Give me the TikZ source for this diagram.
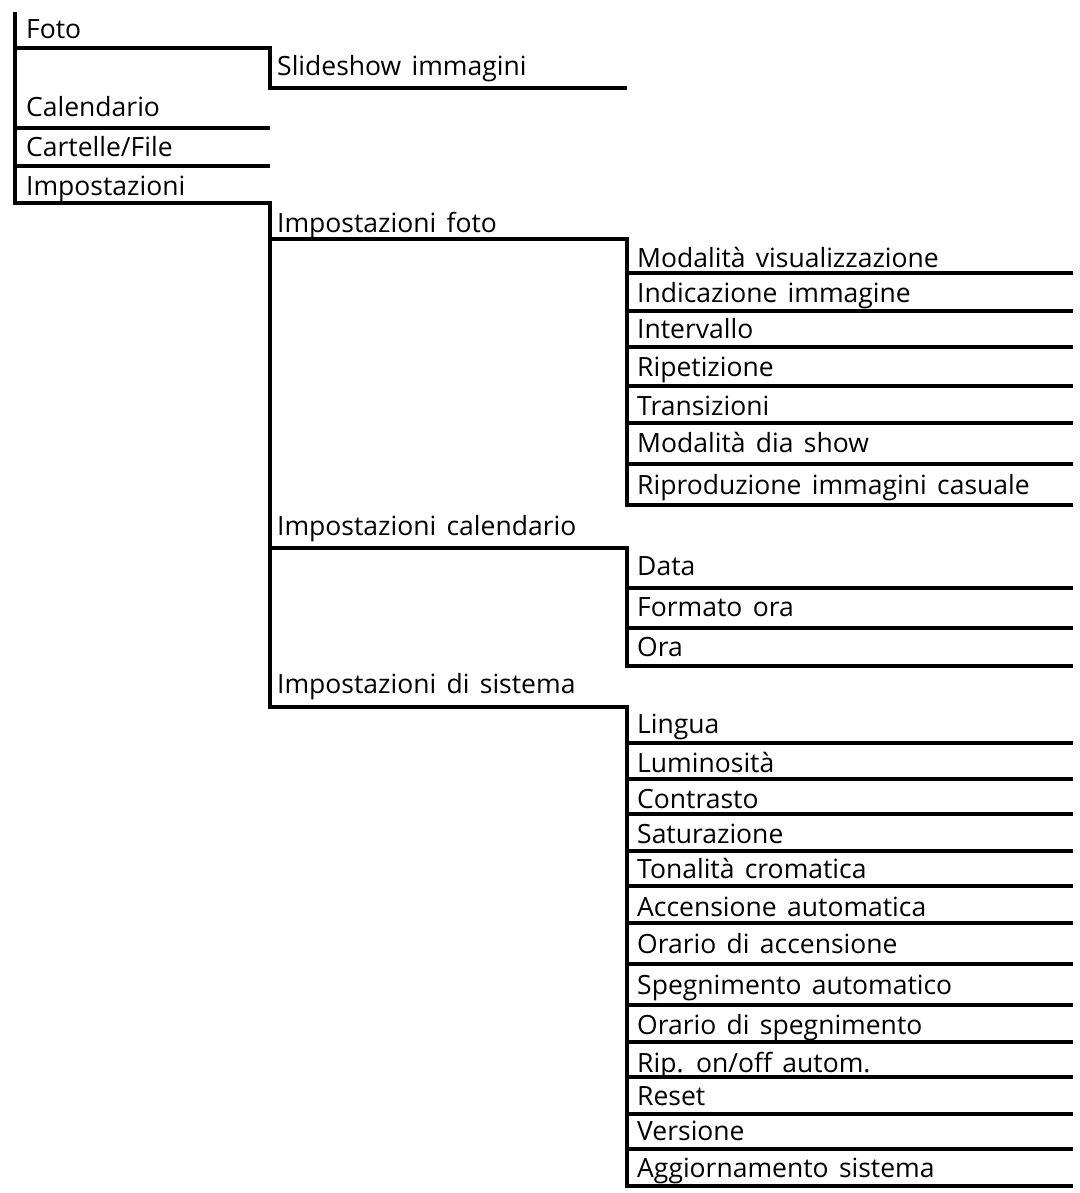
\documentclass[tikz,border=0pt]{standalone}
\usepackage{fontspec}
\setmainfont{Open Sans}[WordSpace=1.5]
\begin{document}
\begin{tikzpicture}[x=1pt,y=-1pt]
\tikzset{
  lbl/.style={anchor=base west, inner sep=0pt, font=\fontsize{26.5}{30}\selectfont},
  rule/.style={line width=3.4pt, line join=miter, black}
}
\useasboundingbox (0,0) rectangle (1079,1193);
% level 0 texts
\node[lbl] (foto) at (26,39) {Foto};
\node[lbl] (cal) at (26,117) {Calendario};
\node[lbl] (cart) at (26,157) {Cartelle/File};
\node[lbl] (imp) at (26,195) {Impostazioni};
% level 1
\node[lbl] (slide) at (277,76) {Slideshow immagini};
\node[lbl] (ifoto) at (277,232) {Impostazioni foto};
\node[lbl] (ical) at (277,535) {Impostazioni calendario};
\node[lbl] (isys) at (277,693) {Impostazioni di sistema};
% level 2 foto
\node[lbl] (f1) at (637,267) {Modalità visualizzazione};
\node[lbl] (f2) at (637,302) {Indicazione immagine};
\node[lbl] (f3) at (637,338) {Intervallo};
\node[lbl] (f4) at (637,376) {Ripetizione};
\node[lbl] (f5) at (637,415) {Transizioni};
\node[lbl] (f6) at (637,452) {Modalità dia show};
\node[lbl] (f7) at (637,494) {Riproduzione immagini casuale};
% level 2 calendario
\node[lbl] (c1) at (637,575) {Data};
\node[lbl] (c2) at (637,616) {Formato ora};
\node[lbl] (c3) at (637,656) {Ora};
% level 2 sistema
\node[lbl] (s1) at (637,733) {Lingua};
\node[lbl] (s2) at (637,772) {Luminosità};
\node[lbl] (s3) at (637,808) {Contrasto};
\node[lbl] (s4) at (637,843) {Saturazione};
\node[lbl] (s5) at (637,878) {Tonalità cromatica};
\node[lbl] (s6) at (637,916) {Accensione automatica};
\node[lbl] (s7) at (637,953) {Orario di accensione};
\node[lbl] (s8) at (637,994) {Spegnimento automatico};
\node[lbl] (s9) at (637,1034) {Orario di spegnimento};
\node[lbl] (s10) at (637,1072) {Rip. on/off autom.};
\node[lbl] (s11) at (637,1105) {Reset};
\node[lbl] (s12) at (637,1140) {Versione};
\node[lbl] (s13) at (637,1177) {Aggiornamento sistema};
% main spine
\draw[rule] (15,12) -- (15,203) -- (270,203) -- (270,707) -- (627,707) -- (627,1186) -- (1073,1186);
% Foto branch
\draw[rule] (15,48) -- (270,48) -- (270,88) -- (627,88);
\draw[rule] (15,128) -- (270,128);
\draw[rule] (15,166) -- (270,166);
% Impostazioni foto branch
\draw[rule] (270,239) -- (627,239) -- (627,505) -- (1073,505);
\foreach \y in {273,311,347,386,423,464} \draw[rule] (627,\y) -- (1073,\y);
% calendario branch
\draw[rule] (270,548) -- (627,548) -- (627,666) -- (1073,666);
\foreach \y in {588,628} \draw[rule] (627,\y) -- (1073,\y);
% sistema items
\foreach \y in {743,779,814,851,886,923,964,1005,1042,1077,1114,1149} \draw[rule] (627,\y) -- (1073,\y);
\end{tikzpicture}
\end{document}
